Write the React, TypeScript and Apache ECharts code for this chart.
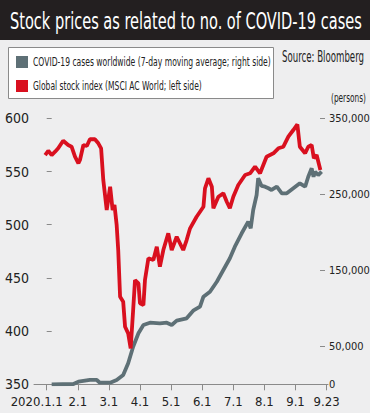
import React, { useEffect, useRef } from "react";
import * as echarts from "echarts";

// x positions are in axis units: 0 = 2020.1.1, 1 = 2.1, ... 8 = 9.1, 9 = 9.23
const tickLabels = ["2020.1.1", "2.1", "3.1", "4.1", "5.1", "6.1", "7.1", "8.1", "9.1", "9.23"];
const tickPositions = [0, 1, 2, 3, 4, 5, 6, 7, 8, 9];
const leftTicks = [350, 400, 450, 500, 550, 600];
const rightTicks = [0, 50000, 150000, 250000, 350000];

const title = "Stock prices as related to no. of COVID-19 cases";
const covidName = "COVID-19 cases worldwide (7-day moving average; right side)";
const stockName = "Global stock index (MSCI AC World; left side)";
const sourceText = "Source: Bloomberg";
const unitText = "(persons)";

// Global stock index (MSCI AC World), left axis
const stockPoints: [number, number][] = [
  [-0.05, 565.5], [0.05, 569.5], [0.16, 565.5], [0.27, 568.6], [0.37, 571.8],
  [0.53, 578.9], [0.69, 574.9], [0.8, 573.3], [0.91, 563.9], [1.02, 557.7],
  [1.07, 560.8], [1.18, 574.9], [1.29, 574.0], [1.39, 580.3], [1.55, 580.3],
  [1.66, 576.5], [1.75, 571.8], [1.82, 542.0], [1.93, 513.8], [2.04, 535.7],
  [2.12, 513.8], [2.18, 518.5], [2.25, 499.7], [2.3, 476.2], [2.36, 432.3],
  [2.46, 427.6], [2.52, 404.1], [2.62, 397.9], [2.7, 383.8], [2.78, 419.8],
  [2.84, 448.0], [2.95, 444.9], [3.0, 426.1], [3.11, 424.5], [3.16, 448.0],
  [3.27, 468.4], [3.43, 466.8], [3.54, 479.3], [3.64, 460.5], [3.75, 476.2],
  [3.91, 491.9], [4.02, 476.2], [4.18, 488.7], [4.39, 476.2], [4.5, 485.6],
  [4.61, 496.6], [4.82, 507.5], [5.04, 516.9], [5.09, 534.2], [5.2, 543.6],
  [5.31, 535.7], [5.36, 515.4], [5.52, 526.3], [5.68, 529.5], [5.79, 521.6],
  [5.89, 515.4], [6.0, 526.3], [6.16, 537.3], [6.38, 546.7], [6.54, 548.3],
  [6.7, 554.5], [6.86, 548.3], [7.07, 563.9], [7.29, 567.1], [7.45, 571.8],
  [7.61, 573.3], [7.77, 582.7], [7.93, 589.0], [8.06, 594.2], [8.14, 573.3],
  [8.31, 567.1], [8.41, 573.3], [8.52, 574.9], [8.59, 562.4], [8.68, 565.5],
  [8.8, 551.4],
];

// COVID-19 new cases worldwide, 7-day moving average, right axis
const covidPoints: [number, number][] = [
  [0.16, 0], [0.86, 400], [1.02, 3400], [1.39, 5700], [1.61, 5700],
  [1.71, 2100], [2.04, 2100], [2.25, 5700], [2.46, 12200], [2.62, 27600],
  [2.78, 49500], [2.95, 67100], [3.11, 78000], [3.32, 81100], [3.64, 80300],
  [3.86, 81100], [4.02, 78000], [4.18, 83700], [4.5, 86800], [4.71, 96800],
  [4.93, 102100], [5.04, 115300], [5.25, 121800], [5.47, 135000], [5.68, 150400],
  [5.89, 165800], [6.05, 181100], [6.27, 198700], [6.48, 214000], [6.56, 205300],
  [6.64, 229400], [6.75, 249100], [6.8, 271100], [6.91, 261000], [7.02, 260000],
  [7.13, 257900], [7.23, 255700], [7.4, 260000], [7.56, 251300], [7.72, 251300],
  [7.93, 257900], [8.14, 264500], [8.31, 260000], [8.41, 273100], [8.52, 284200],
  [8.58, 273100], [8.63, 279700], [8.73, 275300], [8.84, 279700],
];

const NARROW = "'Liberation Sans Narrow', 'DejaVu Sans Condensed', 'Roboto Condensed', sans-serif";

function fitScale(text: string, size: number, target: number, weight = "normal"): number {
  const c = document.createElement("canvas").getContext("2d");
  if (!c) return 1;
  c.font = `${weight} ${size}px ${NARROW}`;
  const w = c.measureText(text).width;
  return w > 0 ? target / w : 1;
}

function scaledText(text: string, x: number, y: number, size: number, target: number, color: string) {
  return {
    type: "text",
    x,
    y,
    scaleX: fitScale(text, size, target),
    style: {
      text,
      fill: color,
      font: `normal ${size}px ${NARROW}`,
      textAlign: "left",
      textVerticalAlign: "middle",
    },
  };
}

export default function App() {
  const ref = useRef<HTMLDivElement>(null);
  useEffect(() => {
    if (!ref.current) return;
    const chart = echarts.init(ref.current, undefined, { renderer: "svg" });
    const textColor = "#222222";
    const fmt = (v: number) => v.toLocaleString("en-US");
    chart.setOption({
      animation: false,
      backgroundColor: "#eeeeef",
      grid: { left: 34, right: 42, top: 118.3, bottom: 28.7, containLabel: false, outerBoundsMode: "none" },
      xAxis: {
        type: "value",
        min: -0.408,
        max: 9.045,
        splitLine: { show: false },
        axisLine: { show: true, lineStyle: { color: "#8a8a8a", width: 1 } },
        axisTick: { show: true, customValues: tickPositions, length: 6, lineStyle: { color: "#8a8a8a" } },
        axisLabel: {
          customValues: tickPositions,
          margin: 11,
          color: textColor,
          fontFamily: NARROW,
          fontSize: 13,
          formatter: (v: number) => {
            const i = Math.round(v);
            return i === 0 ? `{first|${tickLabels[i]}}` : tickLabels[i];
          },
          rich: {
            first: { fontFamily: NARROW, fontSize: 13, color: textColor, padding: [0, 20, 0, 0] },
          },
        },
      },
      yAxis: [
        {
          type: "value",
          min: leftTicks[0],
          max: leftTicks[leftTicks.length - 1],
          interval: 50,
          position: "left",
          splitLine: { show: false },
          axisLine: { show: false },
          axisTick: { show: true, inside: true, length: 5, lineStyle: { color: "#8a8a8a" } },
          axisLabel: { margin: 5, color: textColor, fontFamily: NARROW, fontSize: 14 },
        },
        {
          type: "value",
          min: 0,
          max: 350000,
          interval: 50000,
          position: "right",
          offset: -8,
          splitLine: { show: false },
          axisLine: { show: false },
          axisTick: { show: true, customValues: rightTicks, length: 5, lineStyle: { color: "#8a8a8a" } },
          axisLabel: {
            customValues: rightTicks,
            margin: 9,
            color: textColor,
            fontFamily: NARROW,
            fontSize: 11,
            formatter: (v: number) => fmt(v),
          },
        },
      ],
      series: [
        {
          name: covidName,
          type: "line",
          yAxisIndex: 1,
          data: covidPoints,
          showSymbol: false,
          lineStyle: { color: "#5e7076", width: 3.8 },
          itemStyle: { color: "#5e7076" },
          z: 2,
        },
        {
          name: stockName,
          type: "line",
          yAxisIndex: 0,
          data: stockPoints,
          showSymbol: false,
          lineStyle: { color: "#d9101f", width: 3.8 },
          itemStyle: { color: "#d9101f" },
          z: 3,
        },
      ],
      graphic: [
        { type: "rect", shape: { x: 0, y: 0, width: 370, height: 40 }, style: { fill: "#231f20" } },
        scaledText(title, 10, 21, 23, 352, "#ffffff"),
        {
          type: "rect",
          shape: { x: 8.5, y: 47.5, width: 265, height: 51 },
          style: { fill: "#ffffff", stroke: "#8a8a8a", lineWidth: 1 },
        },
        { type: "rect", shape: { x: 16, y: 56, width: 12, height: 12 }, style: { fill: "#5e7076" } },
        { type: "rect", shape: { x: 16, y: 80, width: 12, height: 12 }, style: { fill: "#d9101f" } },
        scaledText(covidName, 33, 62, 13, 238, textColor),
        scaledText(stockName, 33, 86, 13, 169, textColor),
        scaledText(sourceText, 282, 57, 15, 82, textColor),
        scaledText(unitText, 331, 97, 12, 35, textColor),
      ],
    });
    return () => chart.dispose();
  }, []);
  return <div ref={ref} style={{ position: "absolute", left: 0, top: 0, width: 370, height: 413 }} />;
}
